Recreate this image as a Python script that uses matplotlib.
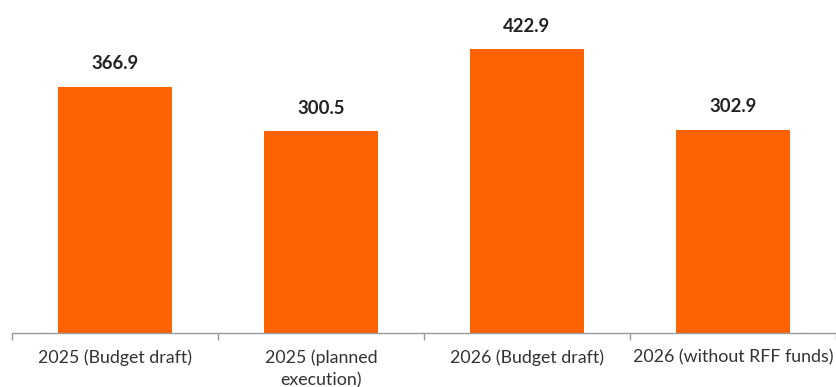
import matplotlib
matplotlib.use('Agg')
import matplotlib.pyplot as plt

categories = ['2025 (Budget draft)', '2025 (planned\nexecution)',
              '2026 (Budget draft)', '2026 (without RFF funds)']
values = [366.9, 300.5, 422.9, 302.9]

orange = '#ff6200'

fig = plt.figure(figsize=(8.37, 3.87), dpi=100)
ax = fig.add_axes([12/837, 54/387, 824/837, 333/387])

x = range(len(values))
bars = ax.bar(x, values, width=0.555, color=orange)

for b, v in zip(bars, values):
    ax.annotate(f'{v:.1f}', (b.get_x() + b.get_width()/2, v),
                xytext=(0, 10.5), textcoords='offset points',
                ha='center', va='bottom', fontsize=13.3, fontweight='bold',
                color='#222222', family='Lato')

ax.set_xlim(-0.5, 3.5)
ax.set_ylim(0, 496.6)

# category ticks without marks, boundary ticks with marks
ax.set_xticks(list(x))
ax.set_xticklabels(categories, fontsize=12.8, color='#333333', family='Lato',
                   linespacing=1.5)
ax.tick_params(axis='x', length=0, pad=12)
ax.set_xticks([-0.5, 0.5, 1.5, 2.5, 3.5], minor=True)
ax.tick_params(axis='x', which='minor', length=5, width=1, color='#999999')

ax.set_yticks([])
for s in ['top', 'right', 'left']:
    ax.spines[s].set_visible(False)
ax.spines['bottom'].set_color('#999999')
ax.spines['bottom'].set_linewidth(1)

fig.savefig('out.png', dpi=100)
